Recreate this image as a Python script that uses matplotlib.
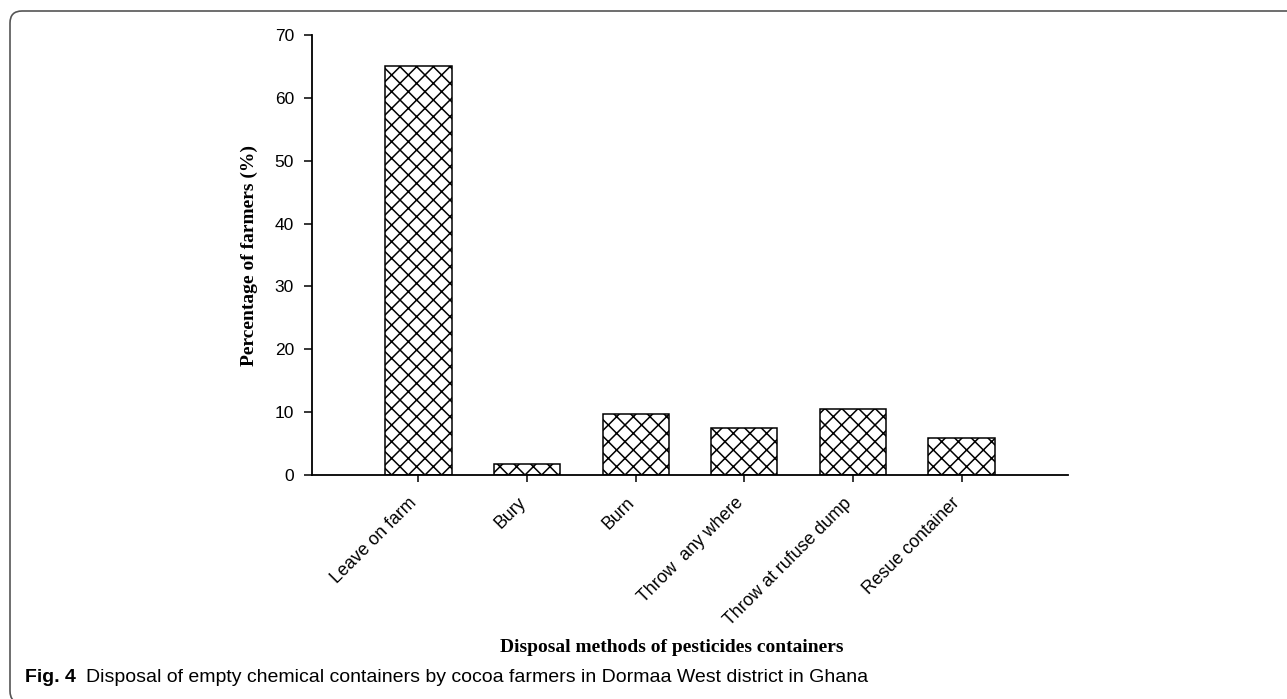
import numpy as np
import matplotlib.pyplot as plt
import matplotlib.transforms as mtransforms
from matplotlib.patches import FancyBboxPatch

metodos = ["Leave on farm", "Bury", "Burn", "Throw  any where",
           "Throw at rufuse dump", "Resue container"]
porcentajes = [65.0, 1.75, 9.7, 7.5, 10.5, 5.9]
ticks_y = [0, 10, 20, 30, 40, 50, 60, 70]

plt.rcParams['hatch.linewidth'] = 1.1
plt.rcParams['font.family'] = ['Liberation Sans', 'DejaVu Sans']

fig = plt.figure(figsize=(12.87, 6.99), dpi=100)
W, H = 1287, 699

# marco redondeado de la figura (abierto por la derecha y abajo)
marco = FancyBboxPatch((10 / 100, -4 / 100), 1320 / 100, 692 / 100,
                       boxstyle="round,pad=0,rounding_size=0.12",
                       transform=fig.dpi_scale_trans, fill=False,
                       edgecolor="#555555", linewidth=1.2, clip_on=False)
fig.patches.append(marco)

ax = fig.add_axes([312 / W, 1 - 475 / H, (1068 - 312) / W, (475 - 35) / H])
x = np.arange(len(metodos))
ax.bar(x, porcentajes, width=0.61, color="white", edgecolor="black",
       linewidth=1.1, hatch="xx")

ax.set_xlim(-0.98, 5.98)
ax.set_ylim(0, 70)
ax.set_yticks(ticks_y)
ax.set_xticks(x)
ax.set_xticklabels(metodos, rotation=45, ha="right", rotation_mode="anchor",
                   fontsize=12.8)
ax.tick_params(axis="y", length=6, width=1.1, labelsize=12.5, pad=7)
ax.tick_params(axis="x", length=5, width=1.1, pad=9)
# desplazar las etiquetas inclinadas un poco a la izquierda
desplaza = mtransforms.ScaledTranslation(-10 / 100, 0, fig.dpi_scale_trans)
for lab in ax.get_xticklabels():
    lab.set_transform(lab.get_transform() + desplaza)
for s in ["top", "right"]:
    ax.spines[s].set_visible(False)
for s in ["left", "bottom"]:
    ax.spines[s].set_linewidth(1.3)

ax.set_ylabel("Percentage of farmers (%)", family="Liberation Serif",
              fontweight="bold", fontsize=14, labelpad=12)

fig.text(672 / W, 1 - 648 / H, "Disposal methods of pesticides containers",
         family="Liberation Serif", fontweight="bold", fontsize=14,
         ha="center", va="center")

t1 = fig.text(25 / W, 1 - 678 / H, "Fig. 4", fontweight="bold",
              fontsize=14, ha="left", va="center")
ax.annotate("Disposal of empty chemical containers by cocoa farmers in Dormaa West district in Ghana",
            xy=(1, 0.5), xycoords=t1, xytext=(7, 0), textcoords="offset points",
            fontsize=14, ha="left", va="center", annotation_clip=False)

fig.savefig("out.png", dpi=100)
